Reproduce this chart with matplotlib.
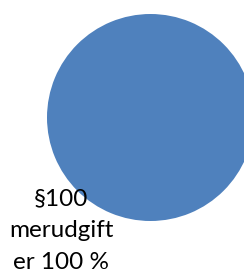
import matplotlib
matplotlib.use("Agg")
import matplotlib.pyplot as plt

# single-slice pie: everything is §100 extra expense
labels = ["§100\nmerudgift\ner 100 %"]
values = [100]
colors = ["#4F81BD"]

W, H = 244, 273
fig = plt.figure(figsize=(W / 100, H / 100), dpi=100)
ax = fig.add_axes([0, 0, 1, 1])

# startangle 45 keeps the full-circle wedge exact (avoids an empty arc)
wedges, texts = ax.pie(
    values,
    labels=labels,
    colors=colors,
    center=(150.5, H - 117.5),
    radius=103.5,
    startangle=45,
    frame=False,
    textprops=dict(fontsize=17.5, family=["Lato", "DejaVu Sans"], color="black"),
)
for t in texts:
    t.set_position((61, H - 230.5))
    t.set_ha("center")
    t.set_va("center")
    t.set_multialignment("center")
    t.set_linespacing(1.65)

ax.set_xlim(0, W)
ax.set_ylim(0, H)
ax.set_aspect("equal")
ax.axis("off")

fig.savefig("out.png", dpi=100)
